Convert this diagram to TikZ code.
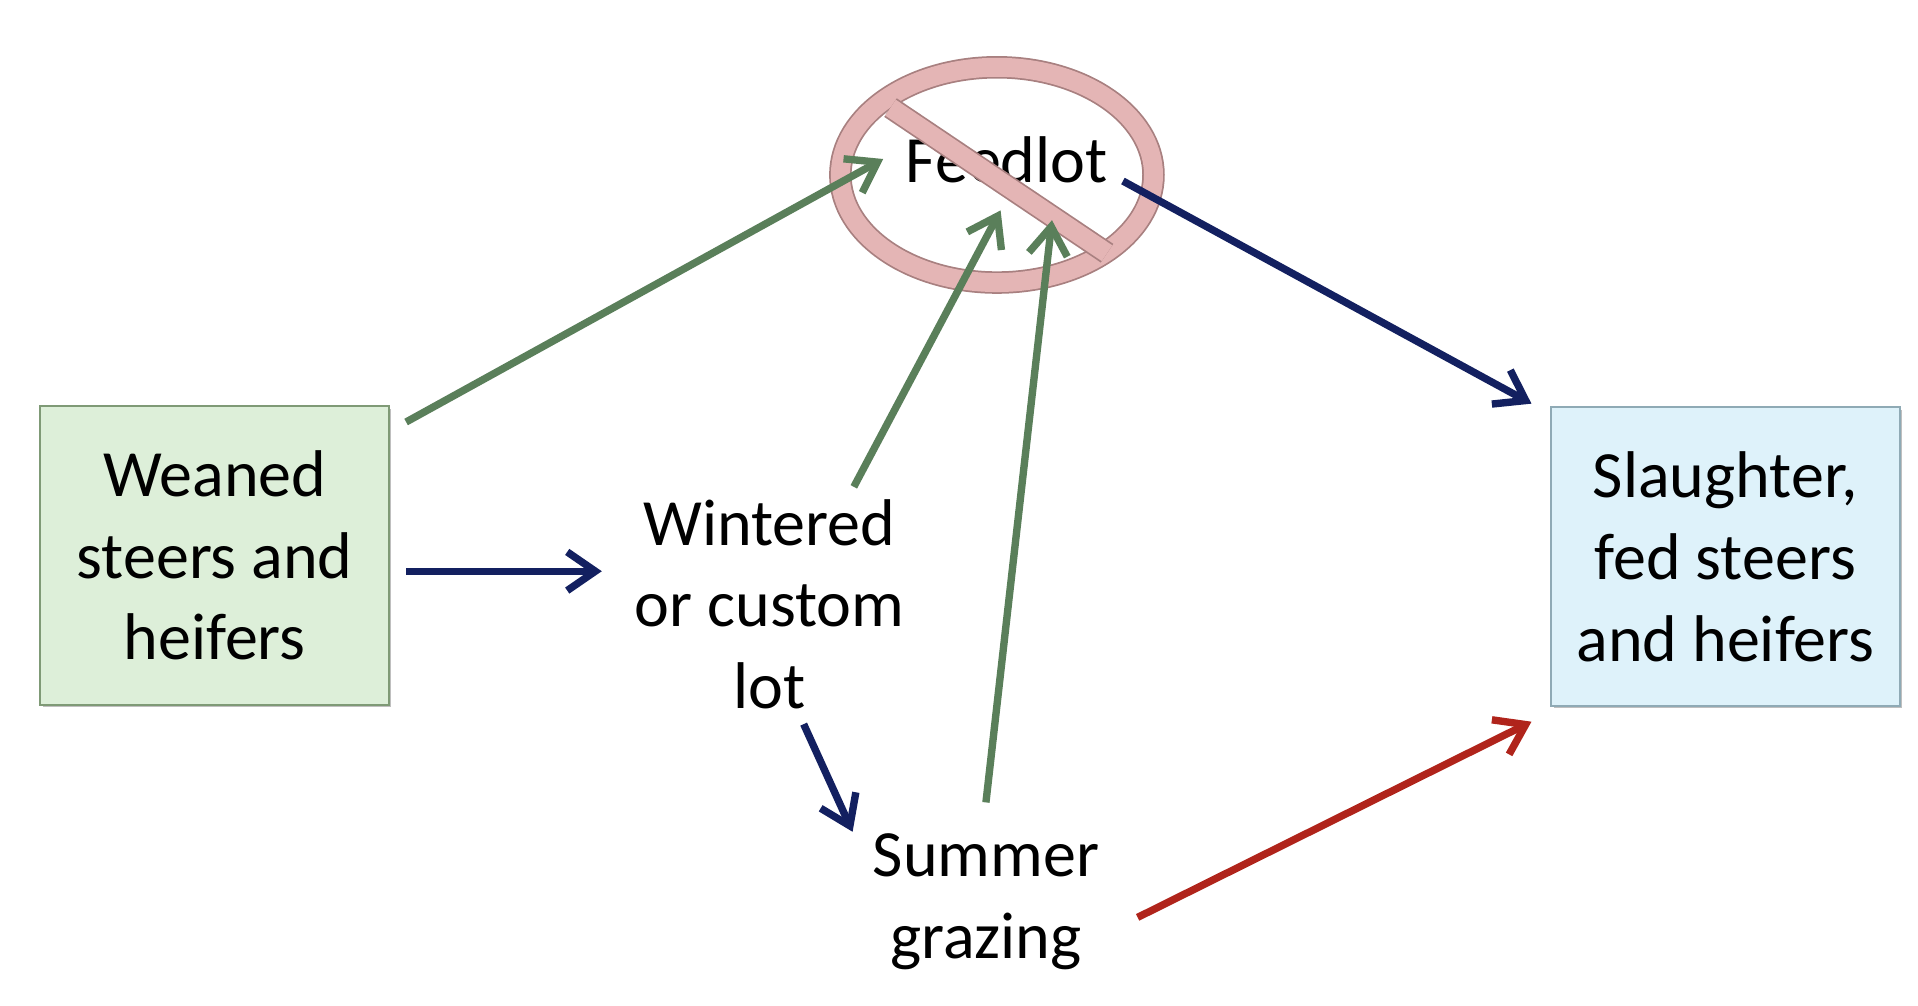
\documentclass[tikz,border=0pt]{standalone}
\usepackage{fontspec}
\setmainfont{Carlito}
\usetikzlibrary{arrows.meta}
\definecolor{gfill}{HTML}{DDEFD9}
\definecolor{gdraw}{HTML}{7F9A76}
\definecolor{bfill}{HTML}{DEF2FA}
\definecolor{bdraw}{HTML}{8FAAB5}
\definecolor{garr}{HTML}{5A7F5A}
\definecolor{narr}{HTML}{132060}
\definecolor{rarr}{HTML}{B0241B}
\definecolor{ring}{HTML}{E4B5B5}
\definecolor{ringd}{HTML}{A88080}
\begin{document}
\begin{tikzpicture}[x=0.01223cm,y=-0.01223cm,
  lbl/.style={font=\fontsize{18.8}{23.3}\selectfont,align=center},
  box/.style={lbl,minimum width=285*0.01223cm,minimum height=244*0.01223cm,inner sep=0pt,line width=0.6pt},
  arr/.style={line width=2.1pt,-{Straight Barb[length=8pt,width=11pt,line width=2.1pt]}}]
\useasboundingbox (0,0) rectangle (1568,822);
\fill[black!25] (35,334) rectangle (320,578);
\fill[black!25] (1270,335) rectangle (1555,579);
\node[box,fill=gfill,draw=gdraw] (w) at (175.5,454) {Weaned\\steers and\\heifers};
\node[box,fill=bfill,draw=bdraw] (s) at (1410.5,455) {Slaughter,\\fed steers\\and heifers};
\node[lbl] (f) at (823,131) {Feedlot};
\node[lbl] (c) at (629,494) {Wintered\\or custom\\lot};
\node[lbl] (g) at (806,737) {Summer\\grazing};
% no-symbol
\draw[ringd,line width=6.4pt] (815,143) ellipse [x radius=128, y radius=88];
\draw[ring,line width=5.4pt] (815,143) ellipse [x radius=128, y radius=88];
\draw[ringd,line width=6.4pt] (728,88) -- (905,207);
\draw[ring,line width=5.4pt] (728,88) -- (905,207);
\coordinate (a1s) at (332,345); \coordinate (a1e) at (722,130);
\coordinate (a2s) at (698,398); \coordinate (a2e) at (818,172);
\coordinate (a3s) at (806,656); \coordinate (a3e) at (860,180);
\coordinate (a4s) at (918,148); \coordinate (a4e) at (1252,330);
\coordinate (a5s) at (332,467); \coordinate (a5e) at (492,467);
\coordinate (a6s) at (657,592); \coordinate (a6e) at (697,680);
\coordinate (a7s) at (930,750); \coordinate (a7e) at (1252,590);
\draw[arr,garr] (a1s) -- (a1e);
\draw[arr,garr] (a2s) -- (a2e);
\draw[arr,garr] (a3s) -- (a3e);
\draw[arr,narr] (a4s) -- (a4e);
\draw[arr,narr] (a5s) -- (a5e);
\draw[arr,narr] (a6s) -- (a6e);
\draw[arr,rarr] (a7s) -- (a7e);
\end{tikzpicture}
\end{document}
